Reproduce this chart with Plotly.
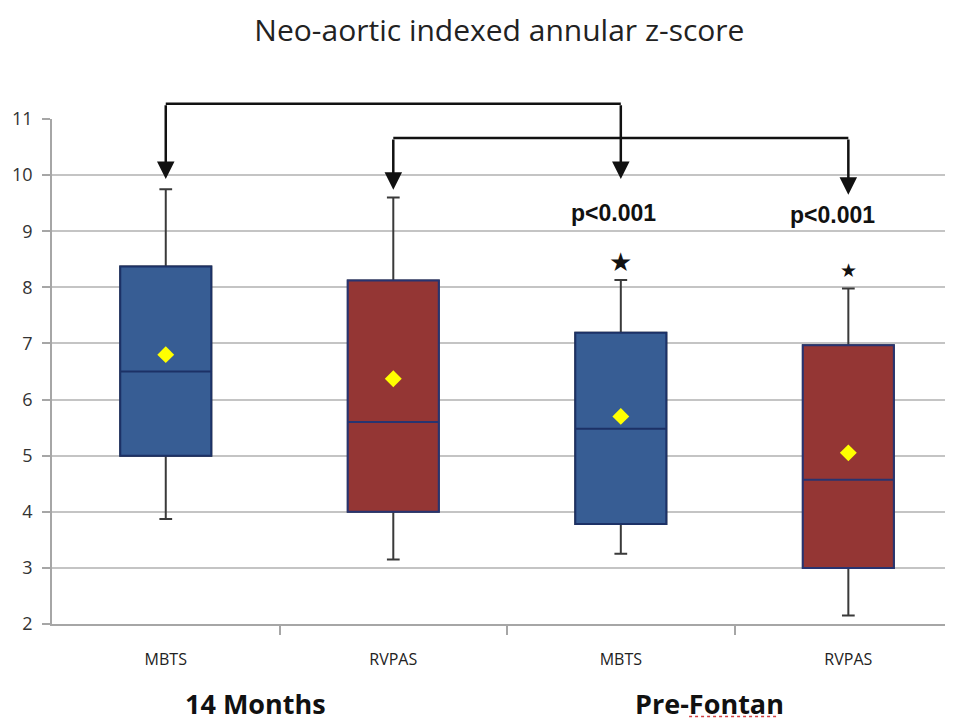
import plotly.graph_objects as go

# ---- data ----
groups = ["MBTS", "RVPAS", "MBTS", "RVPAS"]
positions = [0, 1, 2, 3]
periods = ["14 Months", "Pre-Fontan"]
period_centers = [0.395, 2.39]

q1 = [5.0, 4.0, 3.78, 3.0]
median = [6.5, 5.6, 5.48, 4.57]
q3 = [8.37, 8.12, 7.19, 6.97]
lower = [3.87, 3.15, 3.25, 2.15]
upper = [9.75, 9.6, 8.13, 7.98]
means = [6.8, 6.37, 5.7, 5.05]

p_labels = ["p<0.001", "p<0.001"]
y_ticks = [2, 3, 4, 5, 6, 7, 8, 9, 10, 11]
Y_RANGE = [2, 11]

# bracket geometry (data units)
bracket1 = dict(left=0, right=2, top=11.27, tips=[9.93, 9.93])
bracket2 = dict(left=1, right=3, top=10.66, tips=[9.74, 9.65])

BLUE = "#375d94"
BLUE_EDGE = "#1c3166"
RED = "#943634"
RED_EDGE = "#283470"
WHISK = "#3a3a3a"
GRID = "#c4c4c4"
INK = "#111111"


def to_paper(v):
    return (v - Y_RANGE[0]) / (Y_RANGE[1] - Y_RANGE[0])


fig = go.Figure()

# whisker traces (drawn first)
for idx in ([0, 2], [1, 3]):
    fig.add_trace(go.Box(
        x=[positions[i] for i in idx],
        q1=[q1[i] for i in idx], median=[median[i] for i in idx], q3=[q3[i] for i in idx],
        lowerfence=[lower[i] for i in idx], upperfence=[upper[i] for i in idx],
        fillcolor="rgba(0,0,0,0)", line=dict(color=WHISK, width=2),
        width=0.4, whiskerwidth=0.14, boxpoints=False, showlegend=False, hoverinfo="skip",
    ))

# box bodies
for idx, col, edge in [([0, 2], BLUE, BLUE_EDGE), ([1, 3], RED, RED_EDGE)]:
    fig.add_trace(go.Box(
        x=[positions[i] for i in idx],
        q1=[q1[i] for i in idx], median=[median[i] for i in idx], q3=[q3[i] for i in idx],
        lowerfence=[q1[i] for i in idx], upperfence=[q3[i] for i in idx],
        fillcolor=col, line=dict(color=edge, width=2),
        width=0.4, whiskerwidth=0, boxpoints=False, showlegend=False,
    ))

# means
fig.add_trace(go.Scatter(
    x=positions, y=means, mode="markers", xaxis="x2",
    marker=dict(symbol="diamond", color="#ffff00", size=13, line=dict(width=0)),
    showlegend=False,
))

# brackets: horizontal bar as a paper-y shape (not clipped), vertical arrows as annotations
for b in [bracket1, bracket2]:
    fig.add_shape(type="line", xref="x", yref="paper", x0=b["left"], x1=b["right"],
                  y0=to_paper(b["top"]), y1=to_paper(b["top"]),
                  line=dict(color=INK, width=2.5))
    for xpos, tip in zip([b["left"], b["right"]], b["tips"]):
        fig.add_annotation(x=xpos, y=tip, ax=xpos, ay=b["top"], xref="x", yref="y",
                           axref="x", ayref="y", text="", showarrow=True,
                           arrowhead=2, arrowsize=1.4, arrowwidth=2.5, arrowcolor=INK)

# p labels and stars
p_pos = [(1.97, 9.33), (2.93, 9.29)]
for (px, py), lab in zip(p_pos, p_labels):
    fig.add_annotation(x=px, y=py, xref="x", yref="y", text="<b>" + lab + "</b>",
                       showarrow=False, font=dict(family="Liberation Sans, Arial", size=23, color=INK))
fig.add_annotation(x=2.0, y=8.47, xref="x", yref="y", text="★", showarrow=False,
                   font=dict(size=26, color=INK))
fig.add_annotation(x=3.0, y=8.31, xref="x", yref="y", text="★", showarrow=False,
                   font=dict(size=19, color=INK))

# period labels
for xc, lab in zip(period_centers, periods):
    fig.add_annotation(x=xc, y=0, xref="x", yref="paper", yshift=-79, text="<b>" + lab + "</b>",
                       showarrow=False, yanchor="middle",
                       font=dict(family="Open Sans, Liberation Sans", size=27, color=INK))

# spell-check squiggle under "Fontan" seen in the source image
fig.add_shape(type="line", xref="x", yref="paper", x0=2.30, x1=2.69, y0=-0.183, y1=-0.183,
              line=dict(color="#d04040", width=1.5, dash="dot"))

# page body has an 8px margin, so the figure is sized/offset to land on the 953x721 frame
fig.update_layout(
    width=945, height=713,
    margin=dict(l=44, r=0, t=111, b=97),
    paper_bgcolor="white", plot_bgcolor="white",
    boxmode="overlay", showlegend=False,
    title=dict(text="Neo-aortic indexed annular z-score", x=0.52, xanchor="center",
               y=0.968, yanchor="middle",
               font=dict(family="Open Sans, Liberation Sans", size=30, color="#222222")),
    xaxis=dict(range=[-0.5, 3.46], tickvals=[0.5, 1.5, 2.5], ticktext=["", "", ""],
               ticks="outside", ticklen=9, tickcolor="#a6a6a6", tickwidth=1.5,
               showline=True, linecolor="#a6a6a6", linewidth=1.5,
               showgrid=False, zeroline=False),
    xaxis2=dict(range=[-0.5, 3.46], overlaying="x", side="bottom", anchor="y",
                tickvals=positions, ticktext=groups, ticks="", showline=False,
                showgrid=False, zeroline=False, ticklabelstandoff=24,
                tickfont=dict(family="Open Sans, Liberation Sans", size=16, color="#222222")),
    yaxis=dict(range=Y_RANGE, tickvals=y_ticks, showgrid=True, gridcolor=GRID, gridwidth=1.5,
               ticks="outside", ticklen=8, tickcolor="#a6a6a6", tickwidth=1.5,
               showline=True, linecolor="#a6a6a6", linewidth=1.5, zeroline=False,
               ticklabelstandoff=6,
               tickfont=dict(family="Open Sans, Liberation Sans", size=18, color="#333333")),
)

fig.write_html("out.html")
